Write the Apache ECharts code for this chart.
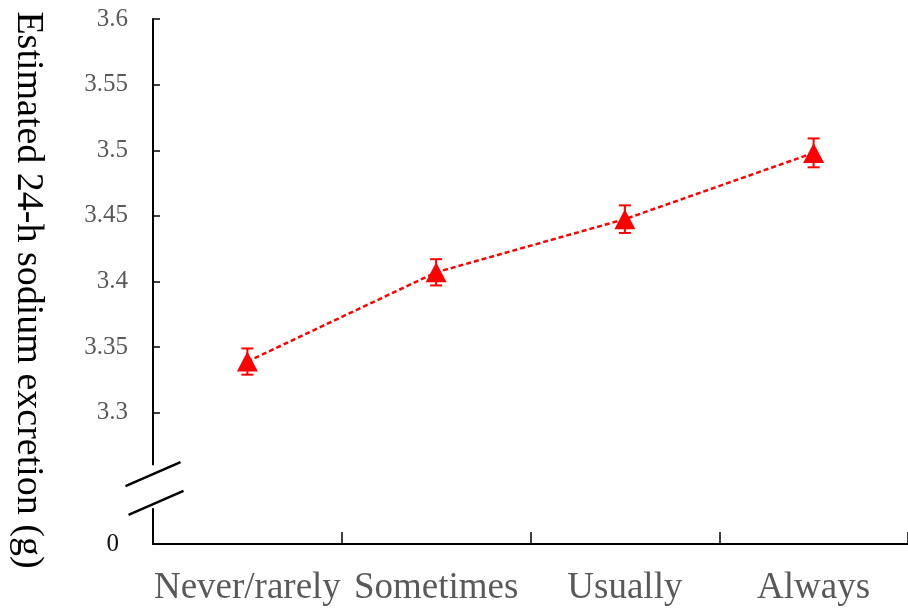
<!DOCTYPE html>
<html><head><meta charset="utf-8">
<script src="https://cdn.jsdelivr.net/npm/echarts@6/dist/echarts.min.js"></script>
<style>html,body{margin:0;padding:0;background:#fff}#c{width:908px;height:608px}</style>
</head><body><div id="c"></div>
<script>
const categories = ['Never/rarely', 'Sometimes', 'Usually', 'Always'];
const means = [3.339, 3.407, 3.4475, 3.498];
const lower = [3.329, 3.397, 3.437, 3.487];
const upper = [3.349, 3.417, 3.458, 3.509];
const yTickValues = [3.3, 3.35, 3.4, 3.45, 3.5, 3.55, 3.6];
const yLabelValues = [3.2, 3.3, 3.35, 3.4, 3.45, 3.5, 3.55, 3.6];
const zeroValue = 3.2;      // axis bottom, labelled "0" (broken axis)
const breakGap = [3.2273, 3.26];
const slashValues = [3.2533, 3.2314];

const FONT = "'Liberation Serif', 'Times New Roman', serif";
const chart = echarts.init(document.getElementById('c'), null, {renderer: 'canvas'});

const errData = categories.map((c, i) => [i, lower[i], upper[i]]);

chart.setOption({
  animation: false,
  backgroundColor: '#fff',
  grid: {left: 153, right: -3, top: 19, bottom: 64, containLabel: false},
  xAxis: {
    type: 'category',
    data: categories,
    boundaryGap: true,
    axisLine: {lineStyle: {color: '#000', width: 2}},
    axisTick: {show: true, inside: true, length: 12, interval: 0, lineStyle: {color: '#000', width: 1.5}},
    axisLabel: {color: '#595959', fontFamily: FONT, fontSize: 37, margin: 26, interval: 0},
    splitLine: {show: false}
  },
  yAxis: {
    type: 'value',
    min: 3.2, max: 3.6, interval: 0.05,
    name: 'Estimated 24-h sodium excretion (g)',
    nameLocation: 'middle',
    nameRotate: -90,
    nameGap: 106,
    nameTextStyle: {color: '#000', fontFamily: FONT, fontSize: 38, padding: [0, 0, 0, 17]},
    axisLine: {show: true, lineStyle: {color: '#000', width: 2}},
    axisTick: {show: true, inside: true, length: 7, customValues: yTickValues, lineStyle: {color: '#000', width: 1.5}},
    axisLabel: {
      customValues: yLabelValues,
      color: '#595959', fontFamily: FONT, fontSize: 25, margin: 25,
      formatter: v => Math.abs(v - zeroValue) < 1e-9 ? '{z|0}' : String(+v.toFixed(2)),
      rich: {z: {color: '#111', fontFamily: FONT, fontSize: 25, padding: [0, 9, 0, 0]}}
    },
    splitLine: {show: false}
  },
  series: [
    {
      type: 'line',
      data: means,
      symbol: 'triangle',
      symbolSize: [21, 20],
      itemStyle: {color: '#ff0000'},
      lineStyle: {color: '#ff0000', width: 2.5, type: [5, 3]},
      z: 3
    },
    {
      type: 'custom',
      data: errData,
      z: 4,
      renderItem: function (params, api) {
        const x = api.coord([api.value(0), api.value(1)])[0];
        const yl = api.coord([api.value(0), api.value(1)])[1];
        const yh = api.coord([api.value(0), api.value(2)])[1];
        const hw = 6;
        const st = {stroke: '#ff0000', lineWidth: 2};
        return {type: 'group', children: [
          {type: 'line', shape: {x1: x, y1: yl, x2: x, y2: yh}, style: st},
          {type: 'line', shape: {x1: x - hw, y1: yl, x2: x + hw, y2: yl}, style: st},
          {type: 'line', shape: {x1: x - hw, y1: yh, x2: x + hw, y2: yh}, style: st}
        ]};
      }
    }
  ]
});

// axis break decoration
const gx = chart.getModel().getComponent('grid', 0).coordinateSystem.getRect().x;
const yA = chart.convertToPixel({yAxisIndex: 0}, breakGap[1]);
const yB = chart.convertToPixel({yAxisIndex: 0}, breakGap[0]);
const s1 = chart.convertToPixel({yAxisIndex: 0}, slashValues[0]);
const s2 = chart.convertToPixel({yAxisIndex: 0}, slashValues[1]);
const dx = 27.5, dy = 12;
chart.setOption({
  graphic: [
    {type: 'rect', z: 100, shape: {x: gx - 4, y: yA, width: 8, height: yB - yA}, style: {fill: '#fff'}},
    {type: 'line', z: 101, shape: {x1: gx - dx, y1: s1 + dy, x2: gx + dx, y2: s1 - dy}, style: {stroke: '#000', lineWidth: 2.5}},
    {type: 'line', z: 101, shape: {x1: gx - dx + 3, y1: s2 + dy, x2: gx + dx + 3, y2: s2 - dy}, style: {stroke: '#000', lineWidth: 2.5}}
  ]
});
</script>
</body></html>
